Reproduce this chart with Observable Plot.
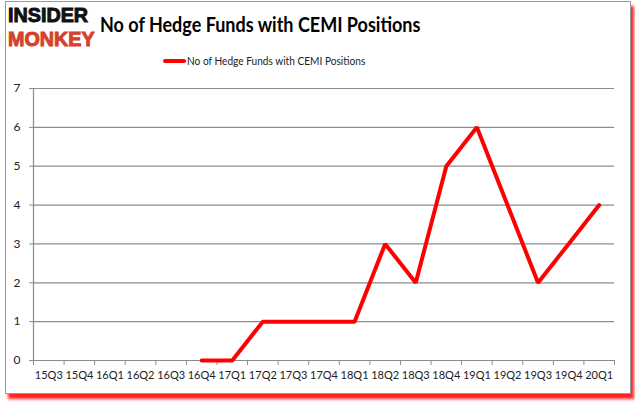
<!DOCTYPE html>
<html>
<head>
<meta charset="utf-8">
<script src="https://cdn.jsdelivr.net/npm/d3@7"></script>
<script src="https://cdn.jsdelivr.net/npm/@observablehq/plot@0.6"></script>
<style>
  html, body { margin: 0; padding: 0; background: #fff; }
  #wrap { position: relative; width: 635px; height: 405px; overflow: hidden; font-family: Lato, "Open Sans", sans-serif; }
  #frame { position: absolute; left: 5px; top: 1px; width: 624px; height: 391px; border: 1px solid #9a9a9a; box-shadow: 3px 5px 3px #ff2020; background: #fff; }
  #logo1, #logo2 { position: absolute; left: 8px; font-family: "Liberation Sans", Arial, sans-serif; font-weight: 900; font-size: 21px; line-height: 1; transform: scaleX(0.94); transform-origin: left top; -webkit-text-stroke: 1px currentColor; }
  #logo1 { top: 4px; color: #111; }
  #logo2 { top: 28px; color: #d6402c; }
  #title { position: absolute; left: 100px; top: 12px; font-family: Lato, sans-serif; font-weight: bold; font-size: 20px; color: #000; white-space: nowrap; transform: scaleX(0.9); transform-origin: left top; }
  #legend { position: absolute; left: 163px; top: 54px; font-size: 11px; color: #222; white-space: nowrap; display: flex; align-items: center; }
  #legend span.sw { display: inline-block; width: 23px; height: 4px; background: #ff0000; border-radius: 2px; margin-right: 1px; }
  #legend span.tx { display: inline-block; transform: scaleX(0.92); transform-origin: left center; }
  #chart { position: absolute; left: 0; top: 0; }
</style>
</head>
<body>
<div id="wrap">
  <div id="frame"></div>
  <div id="logo1">INSIDER</div>
  <div id="logo2">MONKEY</div>
  <div id="title">No of Hedge Funds with CEMI Positions</div>
  <div id="legend"><span class="sw"></span><span class="tx">No of Hedge Funds with CEMI Positions</span></div>
  <div id="chart"></div>
</div>
<script>
const quarters = ["15Q3","15Q4","16Q1","16Q2","16Q3","16Q4","17Q1","17Q2","17Q3","17Q4","18Q1","18Q2","18Q3","18Q4","19Q1","19Q2","19Q3","19Q4","20Q1"];
const funds = [null,null,null,null,null,0,0,1,1,1,1,3,2,5,6,4,2,3,4];
const yTicks = [0,1,2,3,4,5,6,7];
const seriesName = "No of Hedge Funds with CEMI Positions";

const data = quarters.map((q, i) => ({i, q, v: funds[i]})).filter(d => d.v !== null);
const idx = d3.range(quarters.length);
const bounds = d3.range(quarters.length + 1).map(k => k - 0.5);

const chart = Plot.plot({
  width: 635,
  height: 405,
  marginLeft: 33,
  marginRight: 21,
  marginTop: 88,
  marginBottom: 45,
  style: {fontFamily: "Lato, 'Open Sans', sans-serif", fontSize: "11px", color: "#222", background: "transparent"},
  x: {type: "linear", domain: [-0.5, quarters.length - 0.5]},
  y: {domain: [0, 7]},
  marks: [
    Plot.ruleY(yTicks, {stroke: "#8c8c8c", strokeWidth: 1.2}),
    Plot.ruleX([-0.5], {stroke: "#8c8c8c", strokeWidth: 1.2}),
    Plot.axisY({ticks: yTicks, tickSize: 4, tickPadding: 9, tickFormat: d3.format("d"), stroke: "#8c8c8c", label: null, fontSize: 12}),
    Plot.axisX({ticks: bounds, tickSize: 5, tickFormat: () => "", stroke: "#8c8c8c", label: null}),
    Plot.axisX({ticks: idx, tickSize: 0, tickPadding: 11, tickFormat: i => quarters[i], label: null, fontSize: 11}),
    Plot.line(data, {x: "i", y: "v", stroke: "#ff0000", strokeWidth: 4, strokeLinejoin: "miter", title: () => seriesName})
  ]
});
document.getElementById("chart").appendChild(chart);
</script>
</body>
</html>
